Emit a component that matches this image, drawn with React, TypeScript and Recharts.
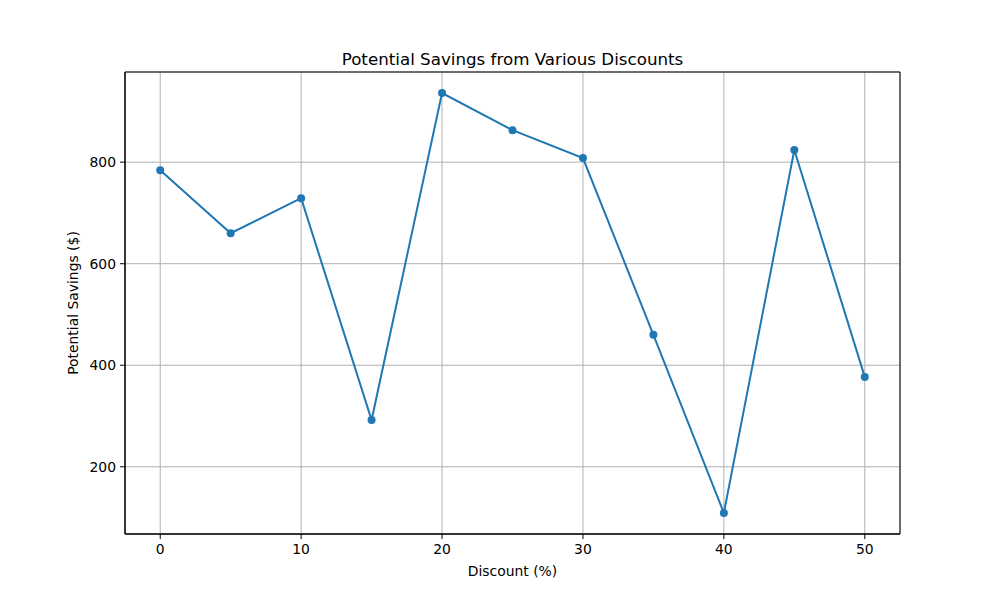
import React from 'react';
import { LineChart, Line, XAxis, YAxis, CartesianGrid, ReferenceArea } from 'recharts';

const discounts = [0, 5, 10, 15, 20, 25, 30, 35, 40, 45, 50];
const savings = [784, 660, 729, 292, 936, 863, 808, 460, 109, 824, 377];
const xTicks = [0, 10, 20, 30, 40, 50];
const yTicks = [200, 400, 600, 800];

const data = discounts.map((d, i) => ({ discount: d, savings: savings[i] }));

const FONT = 'DejaVu Sans, sans-serif';
const X_DOMAIN: [number, number] = [-2.5, 52.5];
const Y_DOMAIN: [number, number] = [67.6, 977.6];

export default function App() {
  return (
    <div style={{ position: 'fixed', top: 0, left: 0, width: 1000, height: 600, background: '#fff' }}>
      <LineChart
        width={1000}
        height={600}
        data={data}
        margin={{ top: 72, right: 100, bottom: 36, left: 65 }}
      >
        <CartesianGrid stroke="#b0b0b0" strokeWidth={1} />
        <XAxis
          dataKey="discount"
          type="number"
          domain={X_DOMAIN}
          ticks={xTicks}
          allowDataOverflow
          height={30}
          tickSize={5}
          tickMargin={5}
          stroke="#000"
          tick={{ fill: '#000', fontSize: 13.9, fontFamily: FONT }}
          tickLine={{ stroke: '#000' }}
          axisLine={{ stroke: '#000' }}
        />
        <YAxis
          type="number"
          domain={Y_DOMAIN}
          ticks={yTicks}
          allowDataOverflow
          width={60}
          tickSize={5}
          tickMargin={4}
          stroke="#000"
          tick={{ fill: '#000', fontSize: 13.9, fontFamily: FONT }}
          tickLine={{ stroke: '#000' }}
          axisLine={{ stroke: '#000' }}
        />
        <ReferenceArea
          x1={X_DOMAIN[0]}
          x2={X_DOMAIN[1]}
          y1={Y_DOMAIN[0]}
          y2={Y_DOMAIN[1]}
          fill="none"
          stroke="#000"
          strokeWidth={1}
          ifOverflow="visible"
        />
        <Line
          type="linear"
          dataKey="savings"
          stroke="#1f77b4"
          strokeWidth={2}
          dot={{ r: 4, fill: '#1f77b4', stroke: '#1f77b4', strokeWidth: 0 }}
          activeDot={false}
          isAnimationActive={false}
        />
      </LineChart>
      <svg
        width={1000}
        height={600}
        style={{ position: 'absolute', top: 0, left: 0, pointerEvents: 'none' }}
      >
        <text x={512.5} y={65} textAnchor="middle" fontSize={16.7} fontFamily={FONT} fill="#000">
          Potential Savings from Various Discounts
        </text>
        <text x={512.5} y={576} textAnchor="middle" fontSize={13.9} fontFamily={FONT} fill="#000">
          Discount (%)
        </text>
        <text
          x={78}
          y={303}
          textAnchor="middle"
          fontSize={13.9}
          fontFamily={FONT}
          fill="#000"
          transform="rotate(-90, 78, 303)"
        >
          Potential Savings ($)
        </text>
      </svg>
    </div>
  );
}
